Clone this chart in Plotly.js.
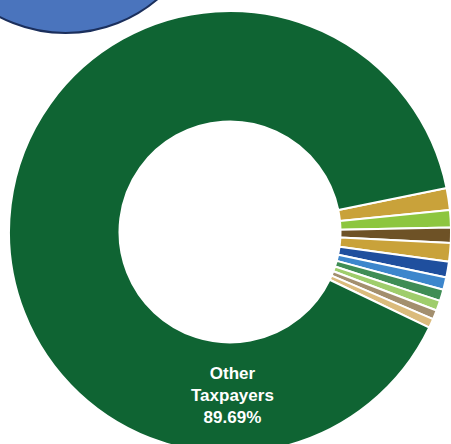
<!DOCTYPE html>
<html>
<head>
<meta charset="utf-8">
<script src="https://cdn.plot.ly/plotly-3.0.1.min.js"></script>
<style>
html,body{margin:0;padding:0;background:#fff;overflow:hidden;width:451px;height:444px;}
#chart{width:451px;height:462px;}
</style>
</head>
<body>
<div id="chart"></div>
<script>
const labels = ["Taxpayer 1","Taxpayer 2","Taxpayer 3","Taxpayer 4","Taxpayer 5","Taxpayer 6","Taxpayer 7","Taxpayer 8","Taxpayer 9","Taxpayer 10","Other Taxpayers"];
const values = [1.60,1.27,1.12,1.35,1.16,0.90,0.84,0.73,0.68,0.66,89.69];
const colors = ["#c9a23a","#8dc63f","#6e5226","#c9a23a","#1f4f9e","#3d86cc","#3f8d55","#9fcd6c","#a38f6e","#dbbb7c","#0f6433"];

const W = 451, H = 462;
const cx = 230, cy = 232, R = 221;

const data = [{
  type: "pie",
  labels: labels,
  values: values,
  sort: false,
  direction: "clockwise",
  rotation: 78.5,
  hole: 0.5,
  textinfo: "none",
  hoverinfo: "label+percent",
  marker: {colors: colors, line: {color: "#ffffff", width: 2}},
  domain: {x: [(cx - R) / W, (cx + R) / W], y: [1 - (cy + R) / H, 1 - (cy - R) / H]},
  showlegend: false
}];

const layout = {
  width: W, height: H,
  margin: {l: 0, r: 0, t: 0, b: 0},
  paper_bgcolor: "#ffffff",
  showlegend: false,
  shapes: [{
    type: "circle", xref: "paper", yref: "paper",
    x0: -76.5 / W, x1: 207.5 / W, y0: 1 - 33 / H, y1: 1 + 251 / H,
    fillcolor: "#4a74bd", line: {color: "#1b2f5c", width: 2}
  }],
  annotations: [{
    xref: "paper", yref: "paper", x: 232 / W, y: 1 - 395 / H,
    xanchor: "center", yanchor: "middle",
    text: "Other<br>Taxpayers<br>" + values[10].toFixed(2) + "%",
    showarrow: false, align: "center",
    font: {family: "Liberation Sans, Arial, sans-serif", size: 17, color: "#ffffff", weight: "bold"}
  }]
};

Plotly.newPlot("chart", data, layout, {displayModeBar: false, staticPlot: true});
</script>
</body>
</html>
